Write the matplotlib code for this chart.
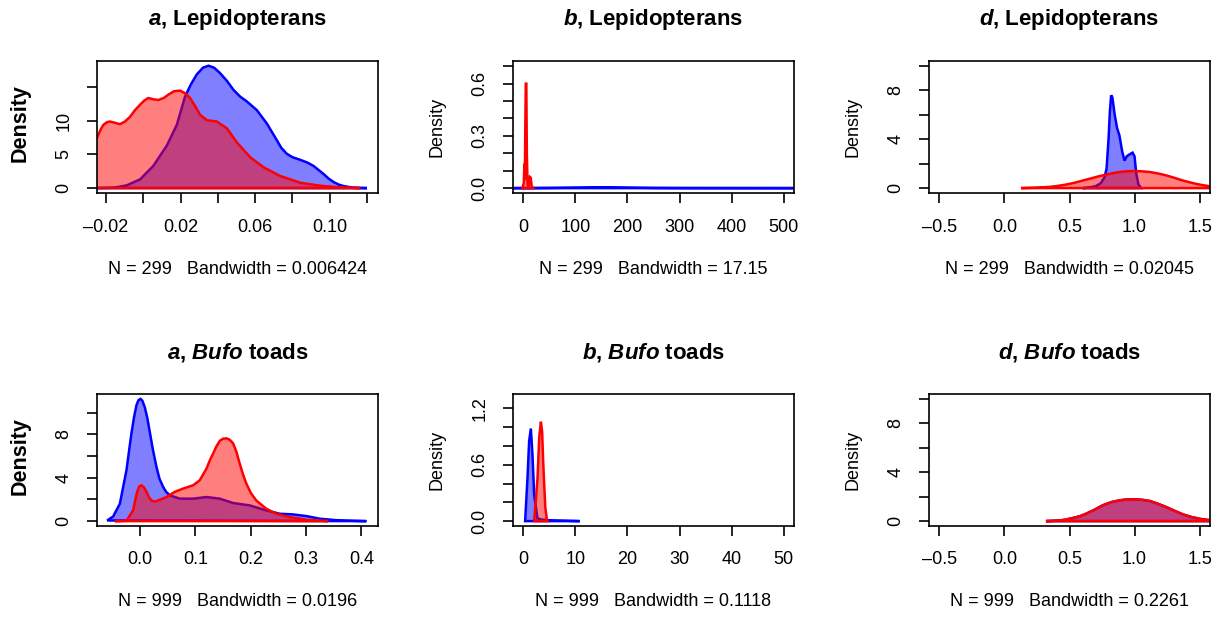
import numpy as np
import matplotlib
matplotlib.use('Agg')
import matplotlib.pyplot as plt

plt.rcParams['font.family'] = 'Liberation Sans'
plt.rcParams['mathtext.fontset'] = 'custom'
plt.rcParams['mathtext.it'] = 'Liberation Sans:italic:bold'
plt.rcParams['mathtext.rm'] = 'Liberation Sans:bold'
plt.rcParams['mathtext.bf'] = 'Liberation Sans:bold'

W, H = 1219, 617

# ---- data (x, density) ----
# a, Lepidopterans
a_lep_blue_x = [-0.03, -0.016, -0.0089, -0.0017, 0.0054, 0.0126, 0.018, 0.0224, 0.0255, 0.0287,
                0.032, 0.035, 0.038, 0.0412, 0.045, 0.0484, 0.052, 0.0555, 0.0609, 0.0663,
                0.0717, 0.074, 0.077, 0.080, 0.0842, 0.088, 0.0913, 0.094, 0.0967, 0.0995,
                0.1021, 0.105, 0.1075, 0.1128, 0.12]
a_lep_blue_y = [0, 0.05, 0.4, 1.3, 3.3, 6.3, 9.4, 13.6, 15.4, 16.9,
                17.9, 18.2, 17.9, 17.1, 15.9, 14.6, 13.6, 12.9, 11.6, 9.6,
                7.1, 6.0, 5.1, 4.6, 4.2, 3.8, 3.3, 2.7, 2.1, 1.4,
                0.9, 0.5, 0.3, 0.05, 0]
a_lep_red_x = [-0.045, -0.035, -0.03, -0.025, -0.023, -0.0214, -0.0195, -0.0179, -0.015, -0.0125,
               -0.0098, -0.0071, -0.0044, -0.0017, 0.0005, 0.0027, 0.0055, 0.0081, 0.011, 0.0135,
               0.0165, 0.0197, 0.0225, 0.0251, 0.028, 0.0305, 0.0341, 0.0394, 0.0448, 0.0502,
               0.0573, 0.0645, 0.0734, 0.0842, 0.0949, 0.1057, 0.1164]
a_lep_red_y = [0, 2.5, 4.8, 7.35, 8.6, 9.4, 9.8, 9.9, 9.7, 9.5,
               9.9, 10.6, 11.6, 12.4, 13.0, 13.4, 13.2, 13.1, 13.4, 13.9,
               14.4, 14.5, 14.1, 13.4, 12.1, 10.9, 10.1, 9.9, 8.9, 6.8,
               4.6, 3.1, 1.8, 0.8, 0.35, 0.1, 0]

# b, Lepidopterans
b_lep_blue_x = [-60, 0, 50, 100, 150, 200, 250, 300, 400, 600]
b_lep_blue_y = [0, 0.0003, 0.0012, 0.003, 0.005, 0.003, 0.0012, 0.0006, 0.0003, 0]
b_lep_red_x = [-2, 0.8, 1.9, 2.8, 3.6, 4.6, 5.6, 6.6, 8.0, 10.0, 12.5, 14.0, 16.0, 18.8]
b_lep_red_y = [0, 0.03, 0.14, 0.05, 0.35, 0.6, 0.6, 0.2, 0.02, 0.01, 0.064, 0.06, 0.01, 0]

# d, Lepidopterans
d_lep_blue_x = [0.60, 0.65, 0.70, 0.74, 0.77, 0.785, 0.80, 0.81, 0.82, 0.83, 0.846, 0.866, 0.884,
                0.905, 0.923, 0.94, 0.96, 0.985, 1.00, 1.013, 1.03, 1.05]
d_lep_blue_y = [0, 0.05, 0.15, 0.4, 0.9, 1.6, 4.0, 6.2, 7.6, 7.4, 6.1, 4.9, 4.3,
                3.0, 2.25, 2.6, 2.75, 2.9, 2.6, 1.2, 0.3, 0]
d_lep_red_x = [0.127, 0.25, 0.345, 0.41, 0.474, 0.54, 0.602, 0.67, 0.73, 0.8, 0.859, 0.92,
               0.987, 1.05, 1.115, 1.18, 1.244, 1.31, 1.372, 1.44, 1.5, 1.577, 1.7, 1.8]
d_lep_red_y = [0, 0.04, 0.1, 0.18, 0.29, 0.44, 0.62, 0.81, 0.98, 1.15, 1.28, 1.36,
               1.4, 1.38, 1.32, 1.2, 1.04, 0.83, 0.62, 0.43, 0.29, 0.15, 0.03, 0]

# a, Bufo toads
a_bufo_blue_x = [-0.0596, -0.0488, -0.0367, -0.0247, -0.02, -0.0157, -0.011, -0.0066, -0.003, 0.0006,
                 0.004, 0.0084, 0.013, 0.0175, 0.023, 0.0295, 0.035, 0.0416, 0.047, 0.0536,
                 0.0717, 0.0958, 0.12, 0.144, 0.168, 0.198, 0.228, 0.252, 0.276, 0.301,
                 0.325, 0.361, 0.409]
a_bufo_blue_y = [0.06, 0.43, 1.6, 4.7, 6.5, 8.1, 9.6, 10.7, 11.15, 11.27,
                 11.1, 10.5, 9.5, 8.2, 6.6, 5.0, 3.9, 3.15, 2.7, 2.38,
                 2.07, 2.07, 2.22, 2.07, 1.67, 1.45, 0.99, 0.68, 0.62, 0.46,
                 0.22, 0.06, 0]
a_bufo_red_x = [-0.0458, -0.0247, -0.0127, -0.009, -0.0054, -0.0015, 0.0024, 0.007, 0.0114, 0.016,
                0.0205, 0.026, 0.0325, 0.0476, 0.0627, 0.0777, 0.0958, 0.1078, 0.12, 0.126,
                0.132, 0.138, 0.144, 0.15, 0.156, 0.162, 0.168, 0.174, 0.18, 0.186,
                0.192, 0.2, 0.21, 0.228, 0.246, 0.27, 0.301, 0.34]
a_bufo_red_y = [0, 0.03, 1.0, 1.9, 2.7, 3.2, 3.3, 3.1, 2.7, 2.2,
                1.9, 1.8, 1.9, 2.22, 2.7, 3.0, 3.3, 3.77, 4.85, 5.6,
                6.24, 6.9, 7.4, 7.6, 7.63, 7.5, 7.17, 6.4, 5.3, 4.3,
                3.46, 2.6, 1.9, 1.14, 0.68, 0.37, 0.12, 0]

# b, Bufo toads
b_bufo_blue_x = [0.33, 0.78, 1.1, 1.43, 1.75, 2.07, 2.7, 3.2, 3.7, 5.6, 8.2, 10.8]
b_bufo_blue_y = [0, 0.455, 0.85, 0.985, 0.7, 0.28, 0.03, 0.02, 0.015, 0.007, 0.004, 0]
b_bufo_red_x = [2.07, 2.71, 3.04, 3.36, 3.6, 3.81, 4.2, 4.5, 4.65]
b_bufo_red_y = [0, 0.455, 0.89, 1.057, 0.95, 0.62, 0.15, 0.02, 0]

# d, Bufo toads
d_bufo_x = [0.319, 0.37, 0.422, 0.47, 0.524, 0.58, 0.627, 0.69, 0.755, 0.82, 0.884, 0.94,
            1.0, 1.06, 1.115, 1.18, 1.243, 1.31, 1.372, 1.44, 1.5, 1.56, 1.628, 1.75]
d_bufo_blue_y = [0, 0.02, 0.05, 0.12, 0.25, 0.4, 0.6, 0.92, 1.29, 1.55, 1.7, 1.77,
                 1.79, 1.74, 1.65, 1.42, 1.15, 0.83, 0.55, 0.33, 0.19, 0.1, 0.05, 0]
d_bufo_red_y = [0, 0.02, 0.05, 0.12, 0.25, 0.4, 0.6, 0.92, 1.29, 1.55, 1.7, 1.77,
                1.79, 1.74, 1.65, 1.42, 1.15, 0.83, 0.55, 0.33, 0.19, 0.1, 0.05, 0]

titles = [r'$a$, Lepidopterans', r'$b$, Lepidopterans', r'$d$, Lepidopterans',
          r'$a$, $Bufo$ toads', r'$b$, $Bufo$ toads', r'$d$, $Bufo$ toads']
subs = ['N = 299   Bandwidth = 0.006424', 'N = 299   Bandwidth = 17.15',
        'N = 299   Bandwidth = 0.02045', 'N = 999   Bandwidth = 0.0196',
        'N = 999   Bandwidth = 0.1118', 'N = 999   Bandwidth = 0.2261']

xticks = [[-0.02, 0.0, 0.02, 0.04, 0.06, 0.08, 0.10, 0.12],
          [0, 100, 200, 300, 400, 500],
          [-0.5, 0.0, 0.5, 1.0, 1.5],
          [0.0, 0.1, 0.2, 0.3, 0.4],
          [0, 10, 20, 30, 40, 50],
          [-0.5, 0.0, 0.5, 1.0, 1.5]]
xticklabels = [['-0.02', '', '0.02', '', '0.06', '', '0.10', ''],
               ['0', '100', '200', '300', '400', '500'],
               ['-0.5', '0.0', '0.5', '1.0', '1.5'],
               ['0.0', '0.1', '0.2', '0.3', '0.4'],
               ['0', '10', '20', '30', '40', '50'],
               ['-0.5', '0.0', '0.5', '1.0', '1.5']]
yticks = [[0, 5, 10, 15],
          [0, 0.1, 0.2, 0.3, 0.4, 0.5, 0.6, 0.7],
          [0, 2, 4, 6, 8, 10],
          [0, 2, 4, 6, 8, 10],
          [0, 0.2, 0.4, 0.6, 0.8, 1.0, 1.2],
          [0, 2, 4, 6, 8, 10]]
yticklabels = [['0', '5', '10', ''],
               ['0.0', '', '', '0.3', '', '', '0.6', ''],
               ['0', '', '4', '', '8', ''],
               ['0', '', '4', '', '8', ''],
               ['0.0', '', '', '0.6', '', '', '1.2'],
               ['0', '', '4', '', '8', '']]
xlims = [(-0.0248, 0.1259), (-20, 520), (-0.58, 1.58),
         (-0.078, 0.43), (-2, 52), (-0.58, 1.58)]
ylims = [(-0.73, 18.9), (-0.028, 0.73), (-0.4, 10.4),
         (-0.45, 11.72), (-0.052, 1.352), (-0.4, 10.4)]

blues = [(a_lep_blue_x, a_lep_blue_y), (b_lep_blue_x, b_lep_blue_y), (d_lep_blue_x, d_lep_blue_y),
         (a_bufo_blue_x, a_bufo_blue_y), (b_bufo_blue_x, b_bufo_blue_y), (d_bufo_x, d_bufo_blue_y)]
reds = [(a_lep_red_x, a_lep_red_y), (b_lep_red_x, b_lep_red_y), (d_lep_red_x, d_lep_red_y),
        (a_bufo_red_x, a_bufo_red_y), (b_bufo_red_x, b_bufo_red_y), (d_bufo_x, d_bufo_red_y)]

# ---- layout (pixels, from top-left) ----
lefts = [97, 513, 929]
tops = [61, 394]
bw, bh = 281, 132
PX = 0.72  # points per pixel at dpi 100

fig = plt.figure(figsize=(W / 100, H / 100), dpi=100)

for i in range(6):
    r, c = divmod(i, 3)
    L, T = lefts[c], tops[r]
    ax = fig.add_axes([L / W, 1 - (T + bh) / H, bw / W, bh / H])

    bx, by = blues[i]
    rx, ry = reds[i]
    ax.fill(bx, by, facecolor=(0, 0, 1, 0.5), edgecolor='#0000ff', linewidth=1.8)
    ax.fill(rx, ry, facecolor=(1, 0, 0, 0.5), edgecolor='#ff0000', linewidth=1.8)

    ax.set_xlim(*xlims[i])
    ax.set_ylim(*ylims[i])
    ax.set_xticks(xticks[i])
    ax.set_xticklabels([s.replace('-', '\u2013') for s in xticklabels[i]])
    ax.set_yticks(yticks[i])
    ax.set_yticklabels(yticklabels[i])
    for s in ax.spines.values():
        s.set_linewidth(1.2)
    ax.tick_params(axis='both', direction='out', length=10 * PX, width=1.2,
                   labelsize=13, color='black')
    ax.tick_params(axis='x', pad=24 * PX)
    ax.tick_params(axis='y', pad=23 * PX, labelrotation=90)
    for t in ax.get_xticklabels():
        t.set_va('center')
    for t in ax.get_yticklabels():
        t.set_ha('center')
        t.set_va('center')

    cx = (L + bw / 2) / W
    fig.text(cx, 1 - (T - 42) / H, titles[i], ha='center', va='center',
             fontsize=16, fontweight='bold')
    fig.text(cx, 1 - (T + bh + 76) / H, subs[i], ha='center', va='center', fontsize=13)
    if c == 0:
        fig.text((L - 77) / W, 1 - (T + bh / 2 - 4) / H, 'Density', rotation=90,
                 ha='center', va='center', fontsize=15.5, fontweight='bold')
    else:
        fig.text((L - 76) / W, 1 - (T + bh / 2) / H, 'Density', rotation=90,
                 ha='center', va='center', fontsize=13)

fig.savefig('out.png', dpi=100)
